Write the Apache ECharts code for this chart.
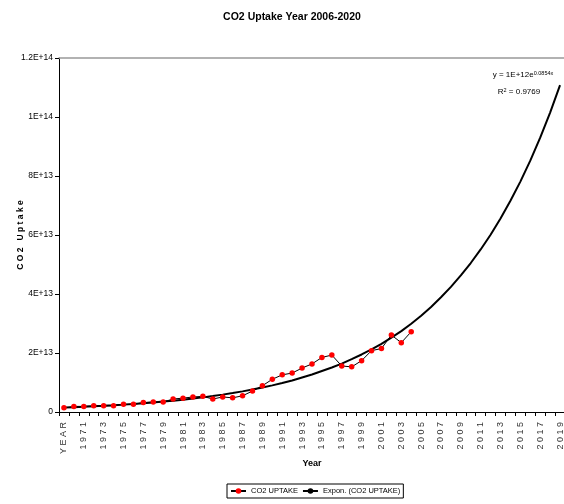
<!DOCTYPE html>
<html>
<head>
<meta charset="utf-8">
<script src="https://cdn.jsdelivr.net/npm/echarts@6/dist/echarts.min.js"></script>
<style>
  html, body { margin: 0; padding: 0; background: #fff; }
  #chart { width: 564px; height: 504px; }
</style>
</head>
<body>
<div id="chart"></div>
<script>
// Category axis: a header cell followed by the years 1970-2019
const categories = ['YEAR'];
for (let y = 1970; y <= 2019; y++) categories.push(String(y));

// Measured CO2 uptake, one value per category starting at the header cell
const uptake = [
  1.4e12, 1.9e12, 1.9e12, 2.1e12, 2.1e12, 2.1e12, 2.6e12, 2.6e12, 3.2e12, 3.4e12,
  3.4e12, 4.4e12, 4.7e12, 5.1e12, 5.3e12, 4.4e12, 5.1e12, 4.8e12, 5.5e12, 7.1e12,
  8.9e12, 11.1e12, 12.6e12, 13.2e12, 14.9e12, 16.3e12, 18.5e12, 19.3e12, 15.6e12, 15.3e12,
  17.4e12, 20.8e12, 21.5e12, 26.1e12, 23.5e12, 27.2e12
];

// Exponential trend line values, one per category
const trend = [
  1.50e12, 1.63e12, 1.78e12, 1.94e12, 2.11e12, 2.30e12, 2.50e12, 2.73e12, 2.97e12, 3.24e12,
  3.53e12, 3.84e12, 4.18e12, 4.56e12, 4.96e12, 5.41e12, 5.89e12, 6.41e12, 6.99e12, 7.61e12,
  8.29e12, 9.03e12, 9.83e12, 10.7e12, 11.7e12, 12.7e12, 13.9e12, 15.1e12, 16.4e12, 17.9e12,
  19.5e12, 21.2e12, 23.1e12, 25.2e12, 27.4e12, 29.9e12, 32.6e12, 35.6e12, 38.9e12, 42.4e12,
  46.3e12, 50.5e12, 55.1e12, 60.1e12, 65.6e12, 71.6e12, 78.1e12, 85.2e12, 93.0e12, 101.5e12,
  110.8e12
];

const FONT = "'Liberation Sans Narrow', 'Arial Narrow', 'Liberation Sans', Arial, sans-serif";

// Scientific labels in the spreadsheet style: 2E+13, 1.2E+14, 0
function sciLabel(v) {
  if (v === 0) return '0';
  const e = Math.floor(Math.log10(v) + 1e-9);
  const m = parseFloat((v / Math.pow(10, e)).toFixed(2));
  return m + 'E+' + e;
}

const supStyle = { fontFamily: FONT, fontSize: 5.5, color: '#000', verticalAlign: 'top', lineHeight: 14, padding: [2, 0, 0, 0] };
const txtStyle = { fontFamily: FONT, fontSize: 8, color: '#000', lineHeight: 14 };

const chart = echarts.init(document.getElementById('chart'), null, { renderer: 'canvas' });

chart.setOption({
  animation: false,
  backgroundColor: '#fff',
  title: {
    text: 'CO2 Uptake Year 2006-2020',
    left: 287, top: 7, textAlign: 'center',
    textStyle: { fontFamily: FONT, fontSize: 10.5, fontWeight: 'bold', color: '#000' }
  },
  grid: { left: 59, top: 58, right: -1, bottom: 92, outerBoundsMode: 'none' },
  legend: {
    left: 227, top: 484,
    itemWidth: 15, itemHeight: 7, itemGap: 4,
    padding: [3, 3, 3, 3],
    borderColor: '#000', borderWidth: 1,
    textStyle: { fontFamily: FONT, fontSize: 7.5, color: '#000' },
    data: ['CO2 UPTAKE', 'Expon. (CO2 UPTAKE)']
  },
  xAxis: [{
    type: 'category',
    data: categories,
    boundaryGap: true,
    name: 'Year',
    nameLocation: 'middle',
    nameGap: 47,
    nameMoveOverlap: false,
    nameTextStyle: { fontFamily: FONT, fontSize: 9, fontWeight: 'bold', color: '#000' },
    axisLine: { lineStyle: { color: '#000', width: 1 } },
    axisTick: { show: true, length: 4, interval: 0, lineStyle: { color: '#000' } },
    axisLabel: {
      interval: 1, rotate: 90, margin: 10,
      fontFamily: FONT, fontSize: 9, color: '#333',
      formatter: v => v.split('').join(' ')
    },
    splitLine: { show: false }
  }, {
    // top border of the plot area
    type: 'category', position: 'top',
    data: categories,
    axisLine: { lineStyle: { color: '#999', width: 1.5 } },
    axisTick: { show: false }, axisLabel: { show: false }
  }],
  yAxis: {
    type: 'value',
    min: 0, max: 1.2e14, interval: 2e13,
    name: 'C O 2   U p t a k e',
    nameLocation: 'middle',
    nameGap: 34,
    nameMoveOverlap: false,
    nameRotate: 90,
    nameTextStyle: { fontFamily: FONT, fontSize: 8.5, fontWeight: 'bold', color: '#000' },
    axisLine: { show: true, lineStyle: { color: '#000', width: 1 } },
    axisTick: { show: true, length: 4, lineStyle: { color: '#000' } },
    axisLabel: { margin: 6, fontFamily: FONT, fontSize: 8.5, color: '#000', formatter: sciLabel },
    splitLine: { show: false }
  },
  graphic: [{
    type: 'text',
    x: 523, y: 75,
    style: {
      text: '{a|y = 1E+12e}{s|0.0854x}',
      align: 'center', verticalAlign: 'middle',
      rich: { a: txtStyle, s: supStyle }
    }
  }, {
    type: 'text',
    x: 519, y: 92,
    style: {
      text: '{a|R}{s|2}{a| = 0.9769}',
      align: 'center', verticalAlign: 'middle',
      rich: { a: txtStyle, s: supStyle }
    }
  }],
  series: [{
    name: 'CO2 UPTAKE',
    type: 'line',
    data: uptake,
    symbol: 'circle',
    symbolSize: 5.5,
    itemStyle: { color: '#ff0000' },
    lineStyle: { color: '#000', width: 1 },
    z: 3
  }, {
    name: 'Expon. (CO2 UPTAKE)',
    type: 'line',
    data: trend,
    symbol: 'none',
    showSymbol: false,
    itemStyle: { color: '#000' },
    lineStyle: { color: '#000', width: 2 },
    z: 2
  }]
});
</script>
</body>
</html>
